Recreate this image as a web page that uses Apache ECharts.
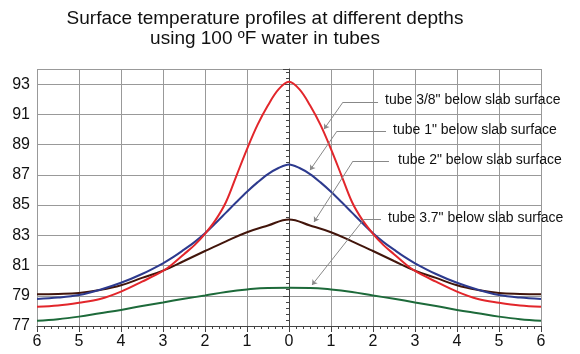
<!DOCTYPE html>
<html lang="en">
<head>
    <meta charset="utf-8">
    <title>Surface temperature profiles</title>
    <script src="https://cdn.jsdelivr.net/npm/echarts@6/dist/echarts.min.js"></script>
    <style>
        html, body { margin: 0; padding: 0; background: #fff; }
        #chart { width: 580px; height: 354px; }
    </style>
</head>
<body>
    <div id="chart"></div>
    <script type="text/javascript">
        // distance from tube (labels shown as absolute values)
        var xFine = [-6, -5.5, -5, -4.5, -4, -3.5, -3, -2.75, -2.5, -2.25, -2, -1.75, -1.5, -1.25, -1, -0.75, -0.5, -0.25, 0,
            0.25, 0.5, 0.75, 1, 1.25, 1.5, 1.75, 2, 2.25, 2.5, 2.75, 3, 3.5, 4, 4.5, 5, 5.5, 6];
        var xCoarse = [-6, -5.5, -5, -4.5, -4, -3.5, -3, -2.5, -2, -1.5, -1, -0.5, 0,
            0.5, 1, 1.5, 2, 2.5, 3, 3.5, 4, 4.5, 5, 5.5, 6];

        var tube38 = [78.28, 78.36, 78.54, 78.78, 79.27, 79.93, 80.64, 81.15, 81.75, 82.35, 83.1, 84.0, 85.2, 86.95, 88.7, 90.3, 91.6, 92.65, 93.15,
            92.65, 91.6, 90.3, 88.7, 86.95, 85.2, 84.0, 83.1, 82.35, 81.75, 81.15, 80.64, 79.93, 79.27, 78.78, 78.54, 78.36, 78.28];
        var tube1 = [78.79, 78.88, 79.05, 79.4, 79.86, 80.44, 81.15, 81.57, 82.05, 82.55, 83.13, 83.8, 84.5, 85.2, 85.88, 86.5, 87.05, 87.45, 87.69,
            87.45, 87.05, 86.5, 85.88, 85.2, 84.5, 83.8, 83.13, 82.55, 82.05, 81.57, 81.15, 80.44, 79.86, 79.4, 79.05, 78.88, 78.79];
        var tube2 = [79.1, 79.12, 79.18, 79.38, 79.69, 80.18, 80.66, 81.3, 81.96, 82.6, 83.2, 83.65, 84.05,
            83.65, 83.2, 82.6, 81.96, 81.3, 80.66, 80.18, 79.69, 79.38, 79.18, 79.12, 79.1];
        var tube37 = [77.35, 77.45, 77.62, 77.84, 78.06, 78.32, 78.56, 78.8, 79.02, 79.25, 79.42, 79.52, 79.53,
            79.52, 79.42, 79.25, 79.02, 78.8, 78.56, 78.32, 78.06, 77.84, 77.62, 77.45, 77.35];

        // callouts: label, text anchor, start of leader, elbow, arrow tip (data coords)
        var calloutText = ['tube 3/8" below slab surface', 'tube 1" below slab surface',
            'tube 2" below slab surface', 'tube 3.7" below slab surface'];
        var calloutAt = [[2.286, 91.94], [2.476, 89.96], [2.595, 87.98], [2.357, 84.14]];
        var leaderStart = [[2.12, 91.81], [2.31, 89.89], [2.38, 87.91], [2.19, 84.07]];
        var leaderElbow = [[1.286, 91.81], [1.143, 89.89], [1.524, 87.91], [1.786, 84.07]];
        var leaderTip = [[0.833, 90.02], [0.5, 87.31], [0.595, 83.88], [0.548, 79.71]];

        function pairs(xs, ys) {
            return xs.map(function (x, i) { return [x, ys[i]]; });
        }

        var font = 'Liberation Sans, Arial, Helvetica, sans-serif';
        var myChart = echarts.init(document.getElementById('chart'));
        var option = {
            animation: false,
            title: {
                text: 'Surface temperature profiles at different depths\nusing 100 \u00baF water in tubes',
                left: 260,
                top: 4,
                textAlign: 'center',
                textStyle: {
                    fontFamily: font,
                    fontSize: 19,
                    lineHeight: 20,
                    fontWeight: 'normal',
                    color: '#111'
                }
            },
            grid: {
                left: 37,
                top: 69,
                width: 504,
                height: 257
            },
            xAxis: {
                type: 'value',
                min: -6,
                max: 6,
                interval: 1,
                axisLine: { lineStyle: { color: '#444', width: 1 } },
                axisTick: { length: 6, lineStyle: { color: '#444' } },
                minorTick: { show: true, splitNumber: 6, length: 3, lineStyle: { color: '#444' } },
                splitLine: { show: true, lineStyle: { color: '#999', width: 1 } },
                axisLabel: {
                    margin: 8,
                    fontFamily: font,
                    fontSize: 16,
                    color: '#111',
                    formatter: function (v) { return Math.abs(v); }
                }
            },
            yAxis: {
                type: 'value',
                min: 77,
                max: 94,
                interval: 2,
                axisLine: { show: true, lineStyle: { color: '#444', width: 1 } },
                axisTick: { show: true, length: 6, lineStyle: { color: '#444' } },
                minorTick: { show: true, splitNumber: 5, length: 3, lineStyle: { color: '#444' } },
                splitLine: { show: true, lineStyle: { color: '#999', width: 1 } },
                axisLabel: {
                    margin: 7,
                    showMaxLabel: false,
                    fontFamily: font,
                    fontSize: 16,
                    color: '#111'
                }
            },
            series: [
                {
                    name: 'tube 3/8"', type: 'line', data: pairs(xFine, tube38),
                    showSymbol: false, smooth: 0.35,
                    lineStyle: { color: '#e2262b', width: 2 }, z: 5
                },
                {
                    name: 'tube 1"', type: 'line', data: pairs(xFine, tube1),
                    showSymbol: false, smooth: 0.35,
                    lineStyle: { color: '#2d3a8e', width: 2 }, z: 4
                },
                {
                    name: 'tube 2"', type: 'line', data: pairs(xCoarse, tube2),
                    showSymbol: false, smooth: 0.4,
                    lineStyle: { color: '#42150b', width: 2 }, z: 3
                },
                {
                    name: 'tube 3.7"', type: 'line', data: pairs(xCoarse, tube37),
                    showSymbol: false, smooth: 0.4,
                    lineStyle: { color: '#1d6a3a', width: 2 }, z: 3
                },
                {
                    type: 'lines', coordinateSystem: 'cartesian2d', silent: true,
                    symbol: 'none',
                    lineStyle: { color: '#888', width: 1, opacity: 1 },
                    data: leaderStart.map(function (p, i) { return { coords: [p, leaderElbow[i]] }; }),
                    z: 6
                },
                {
                    type: 'lines', coordinateSystem: 'cartesian2d', silent: true,
                    symbol: ['none', 'arrow'], symbolSize: 5,
                    lineStyle: { color: '#888', width: 1, opacity: 1 },
                    data: leaderElbow.map(function (p, i) { return { coords: [p, leaderTip[i]] }; }),
                    z: 6
                },
                {
                    type: 'scatter', silent: true, symbolSize: 0,
                    itemStyle: { color: '#fff', opacity: 1 },
                    data: calloutAt.map(function (p, i) { return { name: calloutText[i], value: p }; }),
                    label: {
                        show: true, position: 'right', distance: 0, opacity: 1,
                        formatter: '{b}', fontFamily: font, fontSize: 14, color: '#111'
                    },
                    z: 7
                }
            ]
        };
        myChart.setOption(option);
    </script>
</body>
</html>
